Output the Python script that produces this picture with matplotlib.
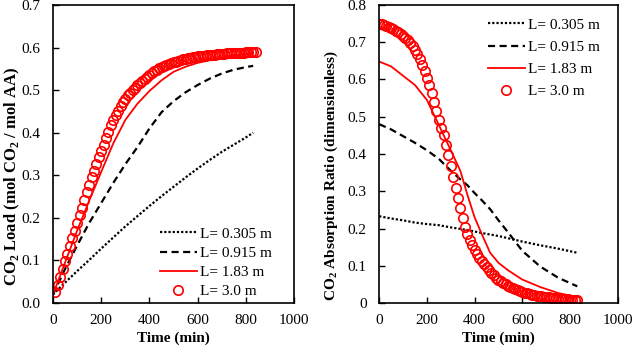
import matplotlib
matplotlib.use("Agg")
import matplotlib.pyplot as plt
import numpy as np

plt.rcParams['font.family'] = 'Liberation Serif'
plt.rcParams['mathtext.fontset'] = 'custom'
plt.rcParams['mathtext.rm'] = 'Liberation Serif'
plt.rcParams['mathtext.bf'] = 'Liberation Serif:bold'

# --- lewy wykres: CO2 load ---
t_lin = [0, 50, 100, 150, 200, 250, 300, 350, 400, 450, 500, 550, 600, 650, 700, 750, 800, 830]
load_0305 = [0.02, 0.048, 0.075, 0.101, 0.128, 0.154, 0.18, 0.204, 0.228, 0.251, 0.273, 0.295,
             0.316, 0.336, 0.355, 0.372, 0.389, 0.40]
load_0915 = [0.02, 0.08, 0.135, 0.188, 0.235, 0.282, 0.326, 0.366, 0.41, 0.448, 0.474, 0.495,
             0.512, 0.527, 0.539, 0.548, 0.554, 0.557]
load_183 = [0.02, 0.095, 0.17, 0.24, 0.308, 0.375, 0.43, 0.468, 0.498, 0.523, 0.543, 0.555,
            0.564, 0.570, 0.576, 0.581, 0.585, 0.588]

t_circ_left = np.arange(10, 850, 10)
load_30 = [0.025, 0.043, 0.061, 0.080, 0.098, 0.116, 0.134, 0.152, 0.170, 0.188,
           0.206, 0.224, 0.242, 0.260, 0.278, 0.296, 0.311, 0.327, 0.342, 0.357,
           0.372, 0.387, 0.402, 0.417, 0.430, 0.441, 0.452, 0.462, 0.471, 0.480,
           0.488, 0.494, 0.500, 0.505, 0.511, 0.516, 0.521, 0.526, 0.531, 0.536,
           0.541, 0.545, 0.548, 0.551, 0.554, 0.557, 0.559, 0.561, 0.563, 0.565,
           0.567, 0.569, 0.571, 0.572, 0.574, 0.575, 0.576, 0.577, 0.578, 0.579,
           0.580, 0.580, 0.581, 0.582, 0.582, 0.583, 0.583, 0.584, 0.584, 0.585,
           0.585, 0.586, 0.586, 0.587, 0.587, 0.587, 0.588, 0.588, 0.588, 0.589,
           0.589, 0.589, 0.590, 0.590]

# --- prawy wykres: absorption ratio ---
t_r = [0, 50, 100, 150, 200, 250, 300, 340, 370, 400, 430, 465, 500, 540, 600, 675, 750, 830]
ratio_0305 = [0.233, 0.227, 0.222, 0.216, 0.212, 0.209, 0.203, 0.199, 0.196, 0.192, 0.188,
              0.184, 0.180, 0.174, 0.165, 0.155, 0.146, 0.135]
ratio_0915 = [0.48, 0.466, 0.448, 0.43, 0.41, 0.387, 0.355, 0.332, 0.316, 0.295, 0.276,
              0.252, 0.222, 0.19, 0.14, 0.098, 0.068, 0.045]
ratio_183 = [0.648, 0.635, 0.61, 0.585, 0.545, 0.478, 0.41, 0.355, 0.29, 0.23, 0.185,
             0.135, 0.108, 0.088, 0.063, 0.043, 0.027, 0.016]

t_circ_right = np.arange(0, 840, 10)
ratio_30 = [0.750, 0.748, 0.746, 0.744, 0.741, 0.738, 0.735, 0.731, 0.727, 0.722,
            0.717, 0.711, 0.705, 0.698, 0.690, 0.680, 0.668, 0.655, 0.640, 0.624,
            0.605, 0.585, 0.563, 0.540, 0.516, 0.492, 0.470, 0.450, 0.425, 0.397,
            0.368, 0.338, 0.310, 0.282, 0.255, 0.228, 0.205, 0.186, 0.169, 0.155,
            0.143, 0.132, 0.122, 0.113, 0.104, 0.096, 0.088, 0.081, 0.074, 0.068,
            0.063, 0.058, 0.054, 0.050, 0.046, 0.043, 0.040, 0.037, 0.034, 0.032,
            0.030, 0.028, 0.026, 0.024, 0.023, 0.021, 0.020, 0.019, 0.018, 0.017,
            0.016, 0.015, 0.014, 0.013, 0.013, 0.012, 0.011, 0.011, 0.010, 0.010,
            0.009, 0.009, 0.008, 0.008]

podpisy = ["L= 0.305 m", "L= 0.915 m", "L= 1.83 m", "L= 3.0 m"]
czerwony = "#ff0000"

fig = plt.figure(figsize=(6.33, 3.52), dpi=100)
ax1 = fig.add_axes([0.0837, 0.139, 0.381, 0.847])
ax2 = fig.add_axes([0.599, 0.139, 0.377, 0.847])


def rysuj(ax, t, s1, s2, s3, tc, s4):
    ax.plot(t, s1, color='black', linestyle=(0, (1, 0.9)), lw=1.6, label=podpisy[0])
    ax.plot(t, s2, color='black', linestyle=(0, (3.2, 2)), lw=1.6, label=podpisy[1])
    ax.plot(t, s3, color=czerwony, linestyle='-', lw=1.3, label=podpisy[2])
    ax.plot(tc, s4, linestyle='none', marker='o', ms=6.8, mfc='none',
            mec=czerwony, mew=1.2, label=podpisy[3])
    ax.set_xlim(0, 1000)
    ax.set_xticks(np.arange(0, 1001, 200))
    ax.tick_params(direction='in', length=4, labelsize=11, width=1)
    ax.tick_params(axis='x', pad=8)
    ax.tick_params(axis='y', pad=9)
    for s in ax.spines.values():
        s.set_linewidth(1.2)
    ax.set_xlabel("Time (min)", fontsize=11, fontweight='bold', labelpad=3)


rysuj(ax1, t_lin, load_0305, load_0915, load_183, t_circ_left, load_30)
ax1.set_ylim(0, 0.7)
ax1.set_yticks(np.arange(0, 0.71, 0.1))
ax1.set_yticklabels(["%.1f" % v for v in np.arange(0, 0.71, 0.1)])
ax1.set_ylabel(r"CO$_{\mathbf{2}}$ Load (mol CO$_{\mathbf{2}}$ / mol AA)",
               fontsize=12, fontweight='bold')
ax1.yaxis.set_label_coords(22 / 633, 0.5, transform=fig.transFigure)
ax1.legend(loc='upper left', bbox_to_anchor=(154 / 633, 1 - 221 / 352),
           bbox_transform=fig.transFigure, borderaxespad=0, frameon=False, fontsize=11,
           handlelength=2.4, handletextpad=0.2, labelspacing=0.36)

rysuj(ax2, t_r, ratio_0305, ratio_0915, ratio_183, t_circ_right, ratio_30)
ax2.set_ylim(0, 0.8)
ax2.set_yticks(np.arange(0, 0.81, 0.1))
ax2.set_yticklabels(["0"] + ["%.1f" % v for v in np.arange(0.1, 0.81, 0.1)])
ax2.set_ylabel(r"CO$_{\mathbf{2}}$ Absorption Ratio (dimensionless)",
               fontsize=11, fontweight='bold')
ax2.yaxis.set_label_coords(340 / 633, 0.5, transform=fig.transFigure)
ax2.legend(loc='upper left', bbox_to_anchor=(482 / 633, 1 - 12 / 352),
           bbox_transform=fig.transFigure, borderaxespad=0, frameon=False, fontsize=11,
           handlelength=2.4, handletextpad=0.2, labelspacing=0.55)

plt.savefig("out.png", dpi=100)
